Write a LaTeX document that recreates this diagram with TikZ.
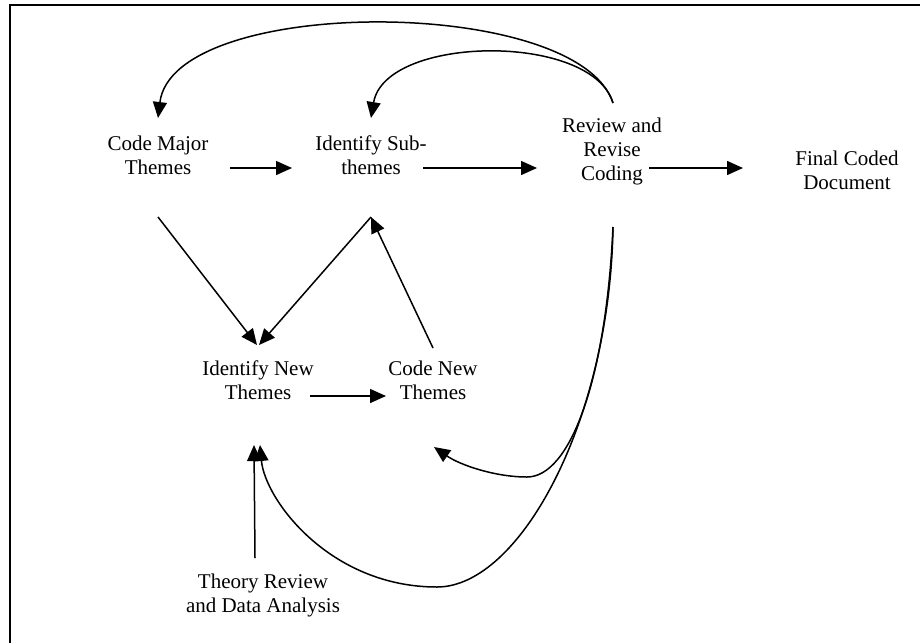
\documentclass[tikz,border=0pt]{standalone}
\usepackage{fontspec}
\setmainfont{Liberation Serif}
\usetikzlibrary{arrows.meta}
\tikzset{
  lbl/.style={align=center, inner sep=0pt, font=\fontsize{21}{24}\selectfont},
  arr/.style={line width=1.5pt, -{Triangle[length=16pt,width=14pt]}},
  frame/.style={line width=2pt}
}
\begin{document}
\begin{tikzpicture}[x=1pt,y=-1pt]
\useasboundingbox (0,0) rectangle (920,643);
\draw[frame] (10,643) -- (10,5) -- (920,5);

\node[lbl] (cmt) at (158,155) {Code Major\\Themes};
\node[lbl] (is)  at (371,155) {Identify Sub-\\themes};
\node[lbl] (rrc) at (612,151) {Review and\\Revise\\Coding};
\node[lbl] (fcd) at (847,170) {Final Coded\\Document};
\node[lbl] (int) at (258,380) {Identify New\\Themes};
\node[lbl] (cnt) at (433,380) {Code New\\Themes};
\node[lbl] (tr)  at (263,595) {Theory Review\\and Data Analysis};

\draw[arr] ([shift={(72,13)}]cmt.center) -- ([shift={(-79,13)}]is.center);
\draw[arr] ([shift={(52,13)}]is.center) -- ([shift={(-75,17)}]rrc.center);
\draw[arr] ([shift={(37,17)}]rrc.center) -- ([shift={(-104,-2)}]fcd.center);
\draw[arr] ([shift={(0,62)}]cmt.center) -- ([shift={(-1,-35)}]int.center);
\draw[arr] ([shift={(0,62)}]is.center) -- ([shift={(1,-35)}]int.center);
\draw[arr] ([shift={(0,-32)}]cnt.center) -- ([shift={(0,62)}]is.center);
\draw[arr] ([shift={(52,16)}]int.center) -- ([shift={(-47,16)}]cnt.center);
\draw[arr] ([shift={(-8,-37)}]tr.center) -- ([shift={(-4,65)}]int.center);

\draw[arr] ([shift={(1,-48)}]rrc.center) .. controls (578,-5) and (173,-5) .. ([shift={(0,-37)}]cmt.center);
\draw[arr] ([shift={(1,-48)}]rrc.center) .. controls (592,32) and (385,35) .. ([shift={(0,-37)}]is.center);
\draw[arr] ([shift={(1,76)}]rrc.center) .. controls (606,380) and (570,477) .. (527,477)
  .. controls (495,477) and (460,465) .. ([shift={(1,67)}]cnt.center);
\draw[arr] ([shift={(1,76)}]rrc.center) .. controls (610,420) and (520,587) .. (437,587)
  .. controls (330,587) and (265,500) .. ([shift={(2,65)}]int.center);
\end{tikzpicture}
\end{document}
